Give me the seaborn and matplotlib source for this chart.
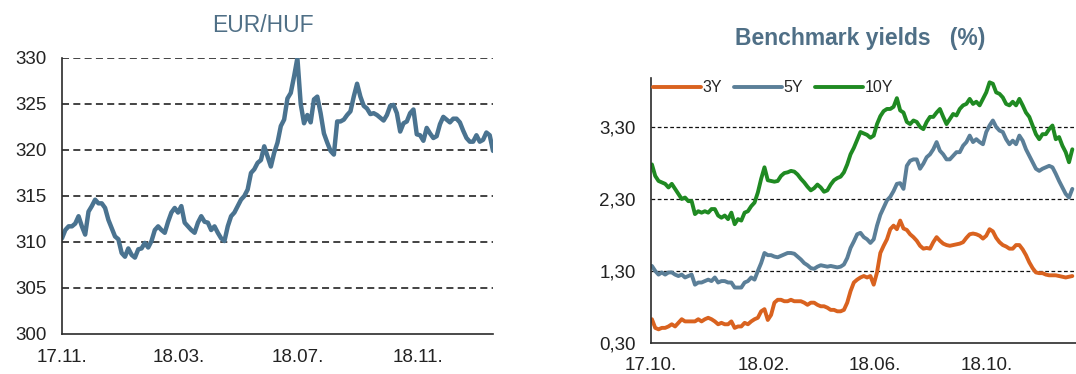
import numpy as np
import pandas as pd
import matplotlib
matplotlib.use("Agg")
import matplotlib.pyplot as plt
import matplotlib.dates as mdates
from matplotlib.ticker import FuncFormatter
import seaborn as sns

# ---------------- data ----------------
# EUR/HUF exchange rate, Nov 2017 - mid Jan 2019
eurhuf_start, eurhuf_end = "2017-11-01", "2019-01-17"
eurhuf = [
    310.4, 311.3, 311.7, 311.7, 312.0, 312.8, 311.7, 310.8, 313.3, 313.9,
    314.6, 314.2, 314.2, 313.7, 312.4, 311.5, 310.6, 310.3, 308.8, 308.4,
    309.3, 308.6, 308.3, 309.2, 309.3, 309.9, 309.4, 310.1, 311.3, 311.7,
    311.3, 311.0, 312.2, 313.2, 313.7, 313.2, 313.9, 312.1, 311.7, 311.3,
    311.0, 312.1, 312.8, 312.2, 312.1, 311.3, 311.7, 311.0, 310.4, 310.1,
    311.7, 312.8, 313.2, 313.9, 314.6, 315.0, 315.7, 317.5, 317.9, 318.6,
    318.9, 320.4, 319.3, 318.2, 319.7, 320.8, 322.6, 323.3, 325.6, 326.2,
    328.0, 330.0, 325.0, 322.9, 323.8, 323.0, 325.5, 325.8, 324.0, 321.8,
    320.8, 319.9, 319.5, 323.1, 323.1, 323.3, 323.8, 324.2, 325.8, 327.2,
    325.8, 324.8, 324.5, 323.9, 324.0, 323.8, 323.5, 323.2, 323.8, 324.8,
    324.9, 324.0, 322.0, 322.9, 323.1, 324.0, 324.4, 321.7, 321.6, 321.0,
    322.4, 321.8, 321.3, 321.5, 322.8, 323.6, 323.3, 323.0, 323.4, 323.4,
    323.0, 322.1, 321.3, 320.9, 320.9, 321.6, 320.9, 321.1, 321.9, 321.6,
    319.9,
]
eurhuf_ticks = ["2017-11-01", "2018-03-01", "2018-07-01", "2018-11-01"]

# Benchmark government bond yields (%), Oct 2017 - early Jan 2019
yield_start, yield_end = "2017-10-02", "2019-01-02"
y3 = [
    0.63, 0.51, 0.49, 0.51, 0.51, 0.53, 0.56, 0.53, 0.58, 0.63,
    0.60, 0.60, 0.60, 0.60, 0.63, 0.60, 0.63, 0.65, 0.63, 0.60,
    0.56, 0.58, 0.56, 0.56, 0.60, 0.51, 0.53, 0.53, 0.58, 0.56,
    0.60, 0.63, 0.65, 0.74, 0.77, 0.62, 0.69, 0.86, 0.90, 0.90,
    0.88, 0.88, 0.90, 0.88, 0.88, 0.88, 0.86, 0.83, 0.86, 0.86,
    0.83, 0.81, 0.81, 0.79, 0.76, 0.76, 0.74, 0.74, 0.76, 0.86,
    1.02, 1.14, 1.18, 1.21, 1.23, 1.21, 1.23, 1.11, 1.28, 1.55,
    1.65, 1.74, 1.88, 1.93, 1.88, 2.00, 1.89, 1.87, 1.81, 1.77,
    1.72, 1.65, 1.61, 1.62, 1.61, 1.70, 1.77, 1.72, 1.68, 1.66,
    1.65, 1.66, 1.67, 1.68, 1.70, 1.76, 1.81, 1.82, 1.81, 1.79,
    1.75, 1.79, 1.88, 1.85, 1.76, 1.70, 1.66, 1.64, 1.61, 1.61,
    1.66, 1.66, 1.60, 1.52, 1.42, 1.34, 1.28, 1.27, 1.27, 1.25,
    1.24, 1.24, 1.24, 1.23, 1.22, 1.21, 1.22, 1.23,
]
y5 = [
    1.37, 1.30, 1.25, 1.28, 1.25, 1.28, 1.28, 1.25, 1.23, 1.25,
    1.21, 1.23, 1.25, 1.11, 1.14, 1.14, 1.16, 1.18, 1.16, 1.21,
    1.14, 1.16, 1.16, 1.14, 1.14, 1.07, 1.07, 1.07, 1.14, 1.16,
    1.21, 1.18, 1.30, 1.41, 1.55, 1.52, 1.52, 1.50, 1.49, 1.51,
    1.53, 1.55, 1.55, 1.54, 1.50, 1.46, 1.41, 1.38, 1.34, 1.33,
    1.36, 1.38, 1.37, 1.36, 1.37, 1.36, 1.35, 1.36, 1.39, 1.48,
    1.62, 1.71, 1.81, 1.83, 1.77, 1.74, 1.69, 1.74, 1.93, 2.08,
    2.18, 2.28, 2.33, 2.41, 2.51, 2.52, 2.44, 2.76, 2.83, 2.85,
    2.85, 2.72, 2.79, 2.88, 2.92, 2.99, 3.09, 2.97, 2.92, 2.85,
    2.85, 2.90, 2.95, 2.95, 3.04, 3.09, 3.18, 3.09, 3.13, 3.09,
    3.06, 3.23, 3.32, 3.39, 3.30, 3.25, 3.23, 3.13, 3.06, 3.11,
    3.06, 3.18, 3.11, 2.99, 2.90, 2.81, 2.72, 2.69, 2.72, 2.74,
    2.76, 2.74, 2.65, 2.55, 2.46, 2.37, 2.32, 2.44,
]
y10 = [
    2.78, 2.62, 2.55, 2.53, 2.51, 2.46, 2.51, 2.44, 2.37, 2.30,
    2.32, 2.27, 2.27, 2.09, 2.13, 2.11, 2.13, 2.11, 2.16, 2.16,
    2.07, 2.04, 2.07, 2.02, 2.11, 1.95, 2.02, 2.00, 2.11, 2.13,
    2.20, 2.25, 2.39, 2.58, 2.74, 2.56, 2.55, 2.54, 2.55, 2.62,
    2.66, 2.67, 2.69, 2.68, 2.64, 2.58, 2.53, 2.47, 2.42, 2.45,
    2.50, 2.46, 2.40, 2.42, 2.50, 2.56, 2.59, 2.61, 2.67, 2.78,
    2.92, 3.01, 3.12, 3.23, 3.21, 3.19, 3.15, 3.18, 3.34, 3.45,
    3.52, 3.55, 3.55, 3.58, 3.70, 3.53, 3.50, 3.37, 3.34, 3.39,
    3.37, 3.30, 3.27, 3.37, 3.44, 3.44, 3.50, 3.55, 3.44, 3.34,
    3.41, 3.48, 3.46, 3.55, 3.60, 3.62, 3.69, 3.62, 3.65, 3.60,
    3.69, 3.78, 3.92, 3.90, 3.78, 3.76, 3.71, 3.62, 3.60, 3.65,
    3.60, 3.69, 3.60, 3.50, 3.44, 3.32, 3.20, 3.13, 3.20, 3.20,
    3.27, 3.32, 3.13, 3.16, 3.04, 2.95, 2.81, 2.99,
]
tenors = ["3Y", "5Y", "10Y"]
yield_ticks = ["2017-10-01", "2018-02-01", "2018-06-01", "2018-10-01"]

# ---------------- frames ----------------
fx = pd.DataFrame({
    "date": pd.date_range(eurhuf_start, eurhuf_end, periods=len(eurhuf)),
    "rate": eurhuf,
})
ydates = pd.date_range(yield_start, yield_end, periods=len(y3))
yields = pd.concat([
    pd.DataFrame({"date": ydates, "yield": vals, "tenor": name})
    for name, vals in zip(tenors, [y3, y5, y10])
], ignore_index=True)

# ---------------- style ----------------
sns.set_theme(style="white")
plt.rcParams["font.family"] = ["Liberation Sans", "DejaVu Sans"]
plt.rcParams["axes.edgecolor"] = "#2b2b2b"

title_color = "#4f6f86"
fx_color = "#4a7390"
palette = {"3Y": "#d9621f", "5Y": "#5b7f98", "10Y": "#1f8a22"}

fig = plt.figure(figsize=(10.76, 3.74), dpi=100)

# ---------------- EUR/HUF ----------------
ax1 = fig.add_axes([0.0576, 0.107, 0.4006, 0.738])
sns.lineplot(data=fx, x="date", y="rate", ax=ax1, color=fx_color,
             linewidth=3.2, legend=False)
ax1.set_xlim(pd.Timestamp("2017-11-01"), pd.Timestamp("2019-01-17"))
ax1.set_ylim(300, 330)
ax1.set_yticks(np.arange(300, 331, 5))
for v in range(305, 331, 5):
    ax1.axhline(v, color="#111111", linewidth=1.1, linestyle=(0, (4.6, 2.8)),
                zorder=0)
ax1.set_xticks(pd.to_datetime(eurhuf_ticks))
ax1.xaxis.set_major_formatter(mdates.DateFormatter("%y.%m."))
ax1.set_xlabel("")
ax1.set_ylabel("")
ax1.tick_params(axis="both", direction="inout", length=6, width=1,
                colors="#2b2b2b", labelsize=13.5, labelcolor="#222222")
ax1.tick_params(axis="y", pad=8)
ax1.tick_params(axis="x", pad=8)
sns.despine(ax=ax1)
for s in ("left", "bottom"):
    ax1.spines[s].set_linewidth(1.2)
fig.text(263 / 1076, 1 - 25 / 374, "EUR/HUF", ha="center", va="center",
         fontsize=16.5, color=title_color)

# ---------------- Benchmark yields ----------------
ax2 = fig.add_axes([651 / 1076, 31 / 374, 1 - 651 / 1076, 265 / 374])
sns.lineplot(data=yields, x="date", y="yield", hue="tenor",
             hue_order=tenors, palette=palette, ax=ax2, linewidth=2.8)
ax2.set_xlim(pd.Timestamp("2017-10-01"), pd.Timestamp("2019-01-06"))
ax2.set_ylim(0.30, 3.98)
ax2.set_yticks([0.30, 1.30, 2.30, 3.30])
ax2.yaxis.set_major_formatter(
    FuncFormatter(lambda v, _: f"{v:.2f}".replace(".", ",")))
for v in (1.30, 2.30, 3.30):
    ax2.axhline(v, color="#111111", linewidth=0.9, linestyle=(0, (3, 2)),
                zorder=0)
ax2.set_xticks(pd.to_datetime(yield_ticks))
ax2.xaxis.set_major_formatter(mdates.DateFormatter("%y.%m."))
ax2.set_xlabel("")
ax2.set_ylabel("")
ax2.tick_params(axis="both", direction="inout", length=6, width=1,
                colors="#2b2b2b", labelsize=13.5, labelcolor="#222222")
ax2.tick_params(axis="y", pad=8)
ax2.tick_params(axis="x", pad=7)
sns.despine(ax=ax2)
for s in ("left", "bottom"):
    ax2.spines[s].set_linewidth(1.2)
handles, labels = ax2.get_legend_handles_labels()
ax2.legend(handles, labels, loc="upper left", bbox_to_anchor=(0.0, 0.998),
           ncol=3, frameon=False, fontsize=11.5, handlelength=3.0,
           handletextpad=0.1, columnspacing=0.75, borderaxespad=0.0,
           borderpad=0.1)
fig.text(860 / 1076, 1 - 38 / 374, "Benchmark yields   (%)", ha="center",
         va="center", fontsize=16.5, fontweight="bold", color=title_color)

fig.savefig("out.png", dpi=100, facecolor="white")
